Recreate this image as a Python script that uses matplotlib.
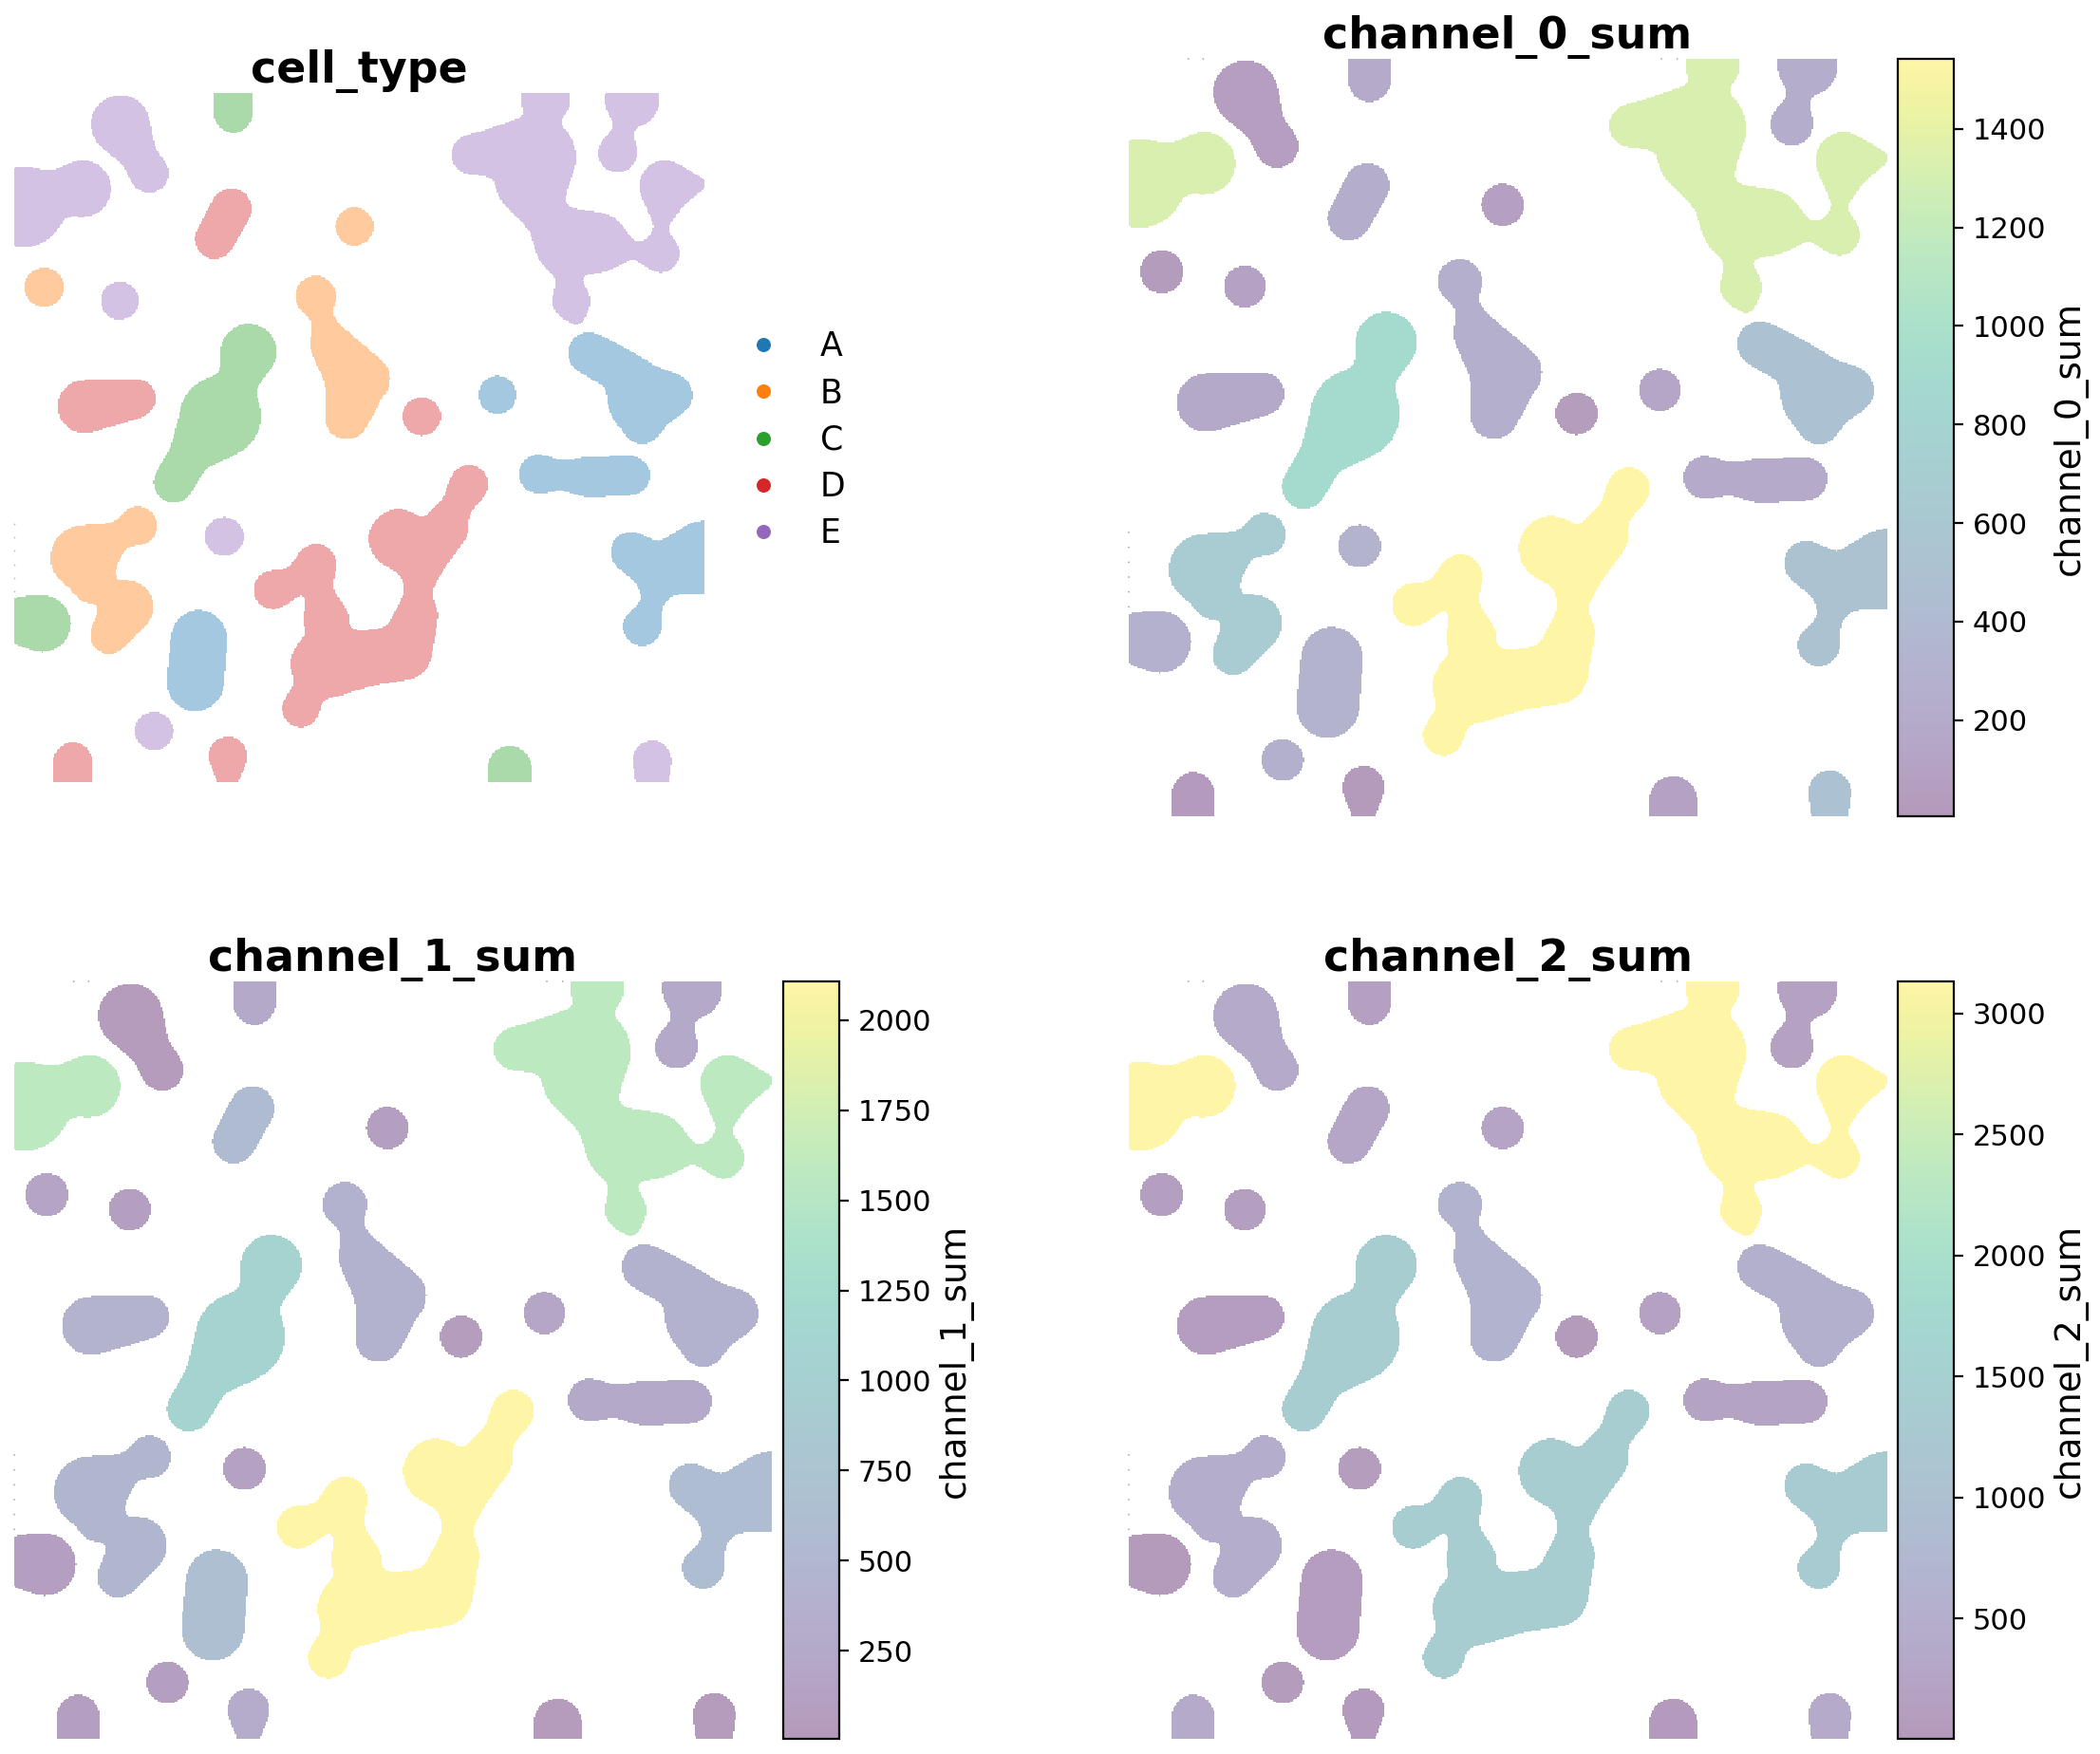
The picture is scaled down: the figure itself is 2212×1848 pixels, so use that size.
import numpy as np
import matplotlib
matplotlib.use("Agg")
import matplotlib.pyplot as plt
from matplotlib.colors import ListedColormap, BoundaryNorm, Normalize
from matplotlib.lines import Line2D

# spatial extent of the field of view
extent_size = 2394
grid_n = 532

# each region: chains of control circles (x, y, radius) in spatial units
regions = [
    [[(368,109,102),(430,215,60),(468,279,68)]],
    [[(760,-6,67),(760,72,67)]],
    [[(33,396,140),(138,350,75),(238,332,98)]],
    [[(753,401,70),(695,509,68)]],
    [[(1180,464,67)]],
    [[(103,675,69)]],
    [[(366,722,67)]],
    [[(243,1089,92),(423,1061,68)]],
    [[(813,899,97),(773,1014,57),(715,1125,140),(613,1250,70),(553,1354,70)]],
    [[(1045,706,71),(1068,784,28),(1098,874,72),(1188,994,105),(1153,1129,75)],
     [(1188,994,105),(1213,994,90)]],
    [[(1583,214,68),(1680,205,85),(1803,224,145)],
     [(1843,24,85)],
     [(1803,224,145),(1793,304,125),(1843,444,60),(1923,519,118),(2023,520,104),(2148,549,20)],
     [(2148,549,20),(2243,559,65),(2243,469,16),(2258,324,90),(2390,316,14)],
     [(1923,519,118),(1918,634,32),(1933,724,66),(1953,789,20)]],
    [[(2143,24,95),(2115,114,22),(2093,209,68)]],
    [[(1993,904,73),(2123,974,75),(2178,1064,120),(2178,1154,66)],
     [(2178,1064,120),(2278,1049,75)]],
    [[(1413,1124,67)]],
    [[(1676,1049,67)]],
    [[(428,1504,68),(368,1534,40),(238,1614,112)],
     [(273,1694,80)],
     [(293,1634,62)],
     [(393,1784,90),(363,1834,78),(328,1884,65)]],
    [[(98,1844,98),(33,1834,85)]],
    [[(641,1894,97),(628,2049,99)]],
    [[(728,1541,68)]],
    [[(485,2217,67)]],
    [[(203,2322,67),(203,2394,67)]],
    [[(741,2302,67),(741,2394,33)]],
    [[(898,1726,68),(973,1699,45),(1048,1634,68),(1058,1734,42),(1083,1834,80)],
     [(1078,1985,118)],
     [(1030,2060,50),(993,2139,65)],
     [(1078,1985,118),(1223,1964,95),(1353,1944,95),(1398,1814,72),(1400,1734,40),(1413,1614,85),(1333,1549,103)],
     [(1413,1614,85),(1498,1509,78),(1530,1440,48),(1578,1359,67)]],
    [[(1818,1324,68),(1903,1329,48),(1993,1334,70),(2138,1329,68)]],
    [[(2138,1594,70),(2240,1660,85),(2393,1614,127)],
     [(2240,1660,85),(2213,1774,30),(2178,1854,67)]],
    [[(1718,2344,76),(1718,2414,77)]],
    [[(2213,2316,67),(2213,2394,57)]],
]

categories = ["A", "B", "C", "D", "E"]
cell_type = ["E","C","E","D","B","B","E","D","C","B","E","E","A","D","A","B","C","A","E","E","D","D","D","A","A","C","E"]

channel_0_sum = [60,200,1320,250,80,40,100,180,900,260,1320,240,500,50,150,680,280,300,300,270,30,20,1540,200,520,100,500]
channel_1_sum = [60,250,1580,580,100,170,100,420,1100,400,1580,250,400,70,200,480,100,650,120,100,100,300,2105,250,620,60,60]
channel_2_sum = [400,160,3130,300,250,130,130,100,1400,650,3130,200,550,50,200,500,50,100,90,70,400,60,1400,220,1350,60,400]

channel_limits = {"channel_0_sum": (5, 1542), "channel_1_sum": (5, 2108), "channel_2_sum": (2, 3132)}

edge_x = [0,0,0,0,0,0,188,235,1683,1733]
edge_y = [1497,1544,1591,1638,1685,1732,0,0,0,0]

FIG_W, FIG_H = 2212, 1848
BLUR = 16.0   # smoothing of region outlines, spatial units
PAD = 50      # padding cells around the field


def build_labels():
    n = grid_n + 2 * PAD
    cell = extent_size / grid_n
    c = (np.arange(n) - PAD + 0.5) * cell
    X, Y = np.meshgrid(c, c)
    f = np.fft.fftfreq(n, d=cell)
    kernel = np.exp(-2 * (np.pi * BLUR) ** 2 * (f[:, None] ** 2 + f[None, :] ** 2))
    labels = -np.ones((grid_n, grid_n), dtype=int)
    for i, chains in enumerate(regions):
        m = np.zeros_like(X, dtype=bool)
        for chain in chains:
            for j, (cx, cy, r) in enumerate(chain):
                m |= np.hypot(X - cx, Y - cy) <= r
                if j + 1 < len(chain):
                    x2, y2, r2 = chain[j + 1]
                    steps = int(np.hypot(x2 - cx, y2 - cy) / 6) + 2
                    for t in np.linspace(0, 1, steps):
                        m |= np.hypot(X - (cx + t * (x2 - cx)), Y - (cy + t * (y2 - cy))) <= r + t * (r2 - r)
        b = np.fft.ifft2(np.fft.fft2(m.astype(float)) * kernel).real
        labels[b[PAD:-PAD, PAD:-PAD] > 0.47] = i
    return labels


def box(x0, y0, x1, y1):
    return [x0 / FIG_W, 1 - y1 / FIG_H, (x1 - x0) / FIG_W, (y1 - y0) / FIG_H]


labels = build_labels()
mask = labels < 0
fig = plt.figure(figsize=(FIG_W / 200, FIG_H / 200), dpi=200)
ext = (0, extent_size, extent_size, 0)


def setup(ax, title):
    ax.set_xlim(0, extent_size)
    ax.set_ylim(extent_size, 0)
    ax.axis("off")
    ax.set_title(title, fontsize=16.5, fontweight="bold", pad=3)


# cell_type panel
tab = plt.get_cmap("tab10").colors
cat_colors = [tab[0], tab[1], tab[2], tab[3], tab[4]]
ax = fig.add_axes(box(15, 98, 742, 824))
codes = np.array([categories.index(c) for c in cell_type])
img = np.ma.array(codes[np.where(mask, 0, labels)], mask=mask)
ax.imshow(img, extent=ext, cmap=ListedColormap(cat_colors), alpha=0.4,
          norm=BoundaryNorm(np.arange(-0.5, 5.5), 5), interpolation="nearest", aspect="auto")
ax.scatter(edge_x[:6], edge_y[:6], s=0.4, color=cat_colors[0], alpha=0.4, linewidths=0, clip_on=False)
setup(ax, "cell_type")
handles = [Line2D([], [], ls="", marker="o", ms=5.4, mew=0, color=col) for col in cat_colors]
ax.legend(handles, categories, frameon=False, fontsize=12.5, loc="center left",
          bbox_to_anchor=(1.038, 0.496), labelspacing=0.44, handletextpad=0.72, borderpad=0, borderaxespad=0)

# channel panels
panels = [
    ("channel_0_sum", channel_0_sum, (1189, 62, 1987, 860), (1999, 62, 2058, 860), [200,400,600,800,1000,1200,1400]),
    ("channel_1_sum", channel_1_sum, (15, 1034, 813, 1832), (825, 1034, 884, 1832), [250,500,750,1000,1250,1500,1750,2000]),
    ("channel_2_sum", channel_2_sum, (1189, 1034, 1987, 1832), (1999, 1034, 2058, 1832), [500,1000,1500,2000,2500,3000]),
]
for name, vals, pos, cpos, ticks in panels:
    ax = fig.add_axes(box(*pos))
    vals = np.array(vals, dtype=float)
    img = np.ma.array(vals[np.where(mask, 0, labels)], mask=mask)
    vmin, vmax = channel_limits[name]
    im = ax.imshow(img, extent=ext, cmap="viridis", norm=Normalize(vmin, vmax), alpha=0.4,
                   interpolation="nearest", aspect="auto")
    ax.scatter(edge_x, edge_y, c=[vmin] * len(edge_x), cmap="viridis", norm=Normalize(vmin, vmax),
               s=0.4, alpha=0.4, linewidths=0, clip_on=False)
    setup(ax, name)
    cax = fig.add_axes(box(*cpos))
    cb = fig.colorbar(im, cax=cax)
    cb.set_ticks(ticks)
    cb.ax.tick_params(labelsize=11)
    cb.set_label(name, fontsize=13.5, labelpad=2.5)

fig.savefig("out.png", dpi=200)
